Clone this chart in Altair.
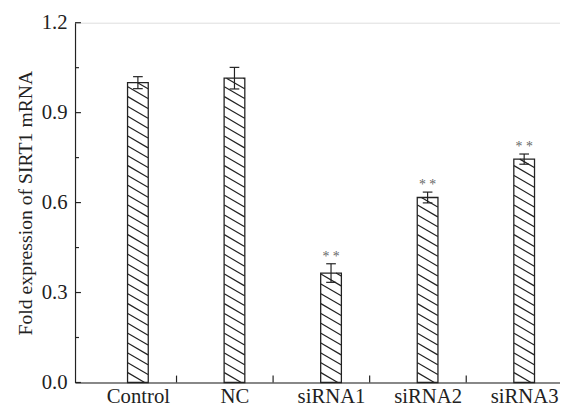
import altair as alt
import pandas as pd

categories = ["Control", "NC", "siRNA1", "siRNA2", "siRNA3"]
means = [1.00, 1.015, 0.365, 0.617, 0.745]
errors = [0.020, 0.036, 0.031, 0.018, 0.017]
stars = ["", "", "* *", "* *", "* *"]
y_ticks = [0.0, 0.3, 0.6, 0.9, 1.2]

FONT = "Liberation Serif"
W, H = 492, 365
XDOM = [0.4, 5.32]
YDOM = [0.0, 1.2]
px_x = W / (XDOM[1] - XDOM[0])
px_y = H / (YDOM[1] - YDOM[0])

pos = [i + 1 for i in range(len(categories))]
df = pd.DataFrame({
    "cat": categories, "pos": pos, "mean": means, "err": errors, "star": stars,
})
df["lo"] = df["mean"] - df["err"]
df["hi"] = df["mean"] + df["err"]
df["cl"] = df["pos"] - 5 / px_x
df["cr"] = df["pos"] + 5 / px_x

# hatch pattern lines inside each bar (decoration derived from bar value)
bw = 21 / px_x          # bar width in data units
sp = 10 / px_y          # vertical spacing
dr = 12 / px_y          # drop across bar
rows = []
for p, v in zip(pos, means):
    xl = p - bw / 2
    j = 0
    while j * sp < v + dr:
        yl = j * sp
        xs = xl + max(0.0, yl - v) * bw / dr
        ys = min(yl, v)
        xe = xl + min(bw, yl * bw / dr)
        ye = max(yl - dr, 0.0)
        if xe > xs + 1e-9:
            rows.append({"x": xs, "y": ys, "x2": xe, "y2": ye})
        j += 1
hatch = pd.DataFrame(rows)

xscale = alt.Scale(domain=XDOM, nice=False, zero=False)
yscale = alt.Scale(domain=YDOM, nice=False)

label_expr = "{" + ",".join(f"'{p}':'{c}'" for p, c in zip(pos, categories)) + "}[datum.value]"

base = alt.Chart(df)

bars = base.mark_bar(size=21, fill="white", stroke=None).encode(
    x=alt.X("pos:Q", scale=xscale, title=None,
            axis=alt.Axis(values=pos, labelExpr=label_expr, tickSize=0, grid=False,
                          domainColor="#222", domainWidth=1.2, labelFont=FONT,
                          labelFontSize=21, labelColor="#222", labelPadding=3)),
    y=alt.Y("mean:Q", scale=yscale,
            title="Fold expression of SIRT1 mRNA",
            axis=alt.Axis(values=y_ticks, format=".1f", tickSize=0, grid=False,
                          domainColor="#222", domainWidth=1.2, labelFont=FONT,
                          labelFontSize=21, labelColor="#222", labelPadding=8,
                          titleFont=FONT, titleFontSize=20, titleFontWeight="normal",
                          titleColor="#222", titlePadding=6)),
)

hatch_lines = alt.Chart(hatch).mark_rule(color="#222", strokeWidth=1.2).encode(
    x=alt.X("x:Q", scale=xscale), x2="x2:Q",
    y=alt.Y("y:Q", scale=yscale), y2="y2:Q",
)

outline = base.mark_bar(size=21, fill=None, stroke="#222", strokeWidth=1.3).encode(
    x=alt.X("pos:Q", scale=xscale), y=alt.Y("mean:Q", scale=yscale),
)

err_rule = base.mark_rule(color="#222", strokeWidth=1.2).encode(
    x=alt.X("pos:Q", scale=xscale), y=alt.Y("lo:Q", scale=yscale), y2="hi:Q",
)
cap_hi = base.mark_rule(color="#222", strokeWidth=1.2).encode(
    x=alt.X("cl:Q", scale=xscale), x2="cr:Q", y=alt.Y("hi:Q", scale=yscale),
)
cap_lo = base.mark_rule(color="#222", strokeWidth=1.2).encode(
    x=alt.X("cl:Q", scale=xscale), x2="cr:Q", y=alt.Y("lo:Q", scale=yscale),
)

star_text = base.mark_text(font=FONT, fontSize=14, color="#666", baseline="bottom", dy=0).encode(
    x=alt.X("pos:Q", scale=xscale), y=alt.Y("hi:Q", scale=yscale), text="star:N",
)

# inward axis ticks
ytick_df = pd.DataFrame({"v": [0.15 * k for k in range(9)],
                         "major": [k % 2 == 0 for k in range(9)]})
yticks_major = alt.Chart(ytick_df[ytick_df["major"]]).mark_rule(color="#222", strokeWidth=1.2).encode(
    y=alt.Y("v:Q", scale=yscale), x=alt.value(0), x2=alt.value(6),
)
yticks_minor = alt.Chart(ytick_df[~ytick_df["major"]]).mark_rule(color="#222", strokeWidth=1.2).encode(
    y=alt.Y("v:Q", scale=yscale), x=alt.value(0), x2=alt.value(4),
)
xtick_df = pd.DataFrame({"v": [p + 0.4 for p in pos[:-1]]})
xticks = alt.Chart(xtick_df).mark_rule(color="#222", strokeWidth=1.2).encode(
    x=alt.X("v:Q", scale=xscale), y=alt.value(H), y2=alt.value(H - 7),
)

chart = alt.layer(
    bars, hatch_lines, outline, err_rule, cap_hi, cap_lo, star_text,
    yticks_major, yticks_minor, xticks,
).properties(
    width=W, height=H,
    autosize=alt.AutoSizeParams(type="none"),
    padding={"left": 68, "top": 12, "right": 0, "bottom": 25},
).configure_view(stroke=None).configure(background="white")

chart.save("out.html", embed_options={"renderer": "svg", "actions": False})
